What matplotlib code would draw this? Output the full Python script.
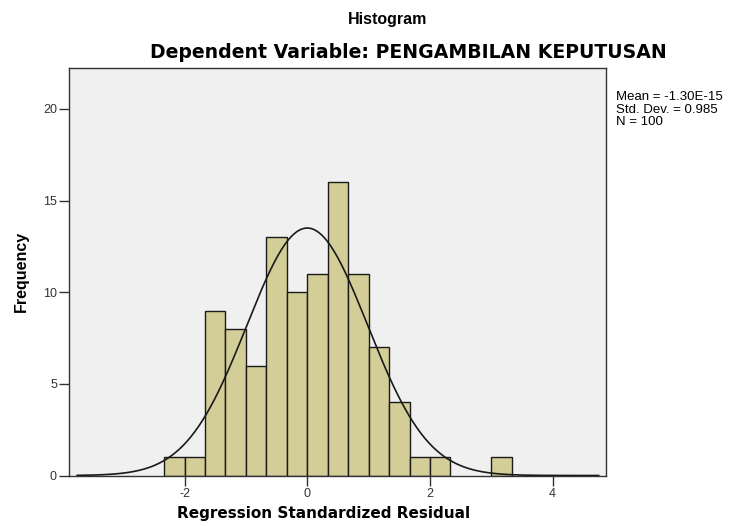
import numpy as np
import matplotlib
matplotlib.use('Agg')
import matplotlib.pyplot as plt

plt.rcParams['font.family'] = ['Liberation Sans', 'DejaVu Sans']
plt.rcParams['axes.unicode_minus'] = False

# histogram of standardized residuals (bin width 1/3)
bin_start = -7 / 3
bin_width = 1 / 3
counts = [1, 1, 9, 8, 6, 13, 10, 11, 16, 11, 7, 4, 1, 1, 0, 0, 1]

mean = -1.30e-15
std = 0.985
n = 100

x_ticks = [-2, 0, 2, 4]
y_ticks = [0, 5, 10, 15, 20]

fig = plt.figure(figsize=(7.29, 5.26), dpi=100)
ax = fig.add_axes([0.0953, 0.096, 0.736, 0.7747])
ax.set_facecolor('#f0f0f0')

lefts = bin_start + bin_width * np.arange(len(counts))
heights = np.array(counts)
keep = heights > 0
ax.bar(lefts[keep], heights[keep], width=bin_width, align='edge',
       color='#d3ce97', edgecolor='#1a1a1a', linewidth=1.0, zorder=2)

# normal curve scaled to counts
xs = np.linspace(-3.75, 4.75, 400)
ys = n * bin_width * np.exp(-0.5 * ((xs - mean) / std) ** 2) / (std * np.sqrt(2 * np.pi))
ax.plot(xs, ys, color='#1a1a1a', linewidth=1.2, zorder=3)

ax.set_xlim(-3.876, 4.87)
ax.set_ylim(0, 22.23)
ax.set_xticks(x_ticks)
ax.set_yticks(y_ticks)
ax.tick_params(direction='out', length=7.5, width=1, colors='#333333',
               labelsize=9, labelcolor='#333333', pad=1.5)
for s in ax.spines.values():
    s.set_color('#333333')
    s.set_linewidth(1)

fig.text(0.531, 0.962, 'Histogram', ha='center', va='center',
         fontsize=11.5, fontweight='bold')
fig.text(0.560, 0.901, 'Dependent Variable: PENGAMBILAN KEPUTUSAN', ha='center', va='center',
         fontsize=13.6, fontweight='bold', family='DejaVu Sans')
ax.set_xlabel('Regression Standardized Residual', fontsize=11, fontweight='bold',
              va='center', family='DejaVu Sans')
ax.xaxis.set_label_coords(0.474, -0.094)
ax.set_ylabel('Frequency', fontsize=11.5, fontweight='bold', labelpad=10)

fig.text(0.845, 0.791, 'Mean = -1.30E-15\nStd. Dev. = 0.985\nN = 100',
         ha='left', va='center', fontsize=9.5, linespacing=1.05)

fig.savefig('out.png', dpi=100)
